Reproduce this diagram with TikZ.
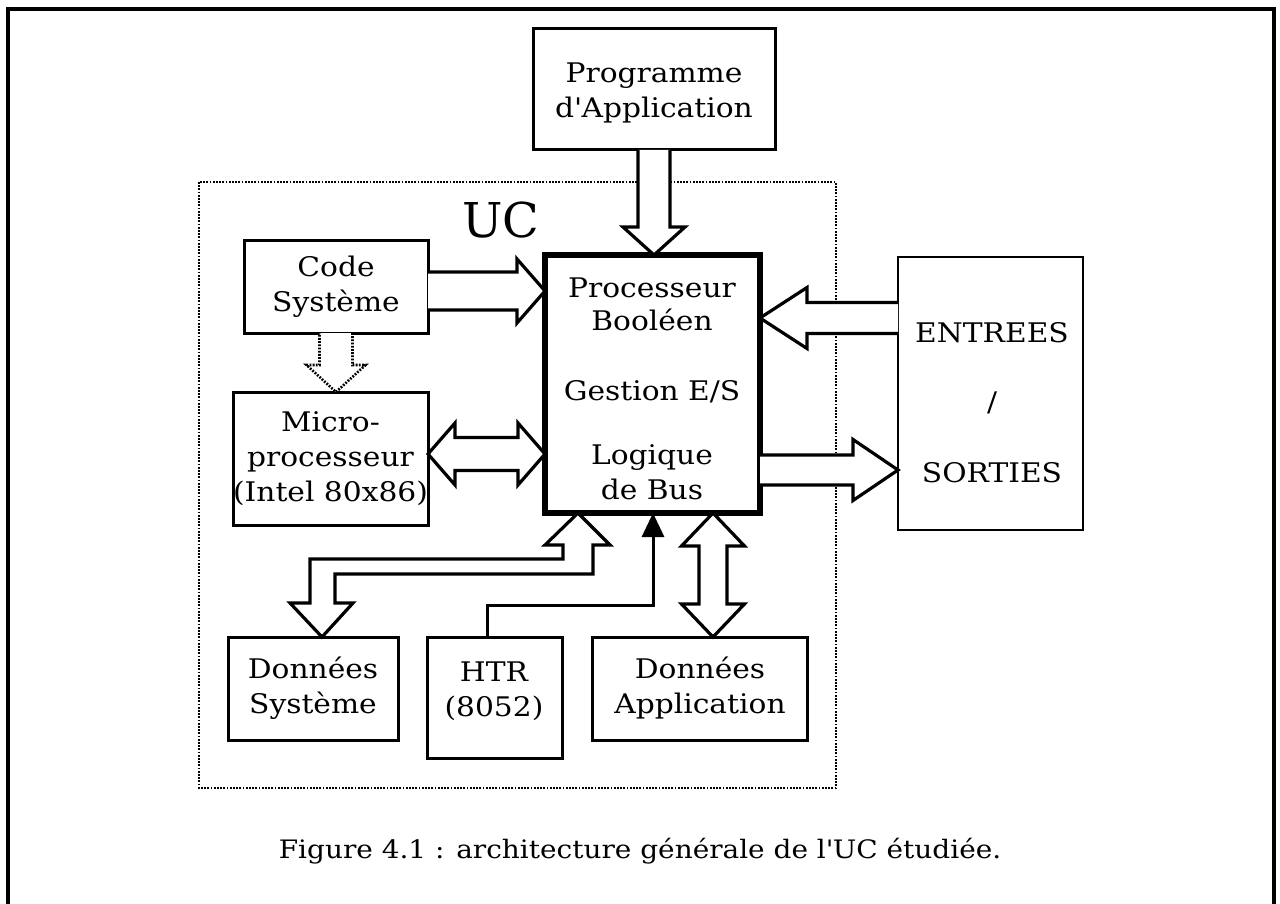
\documentclass[tikz,border=0pt]{standalone}
\usepackage{fontspec}
\setmainfont[FakeStretch=1.1]{DejaVu Serif}
\newfontfamily\ucfont{DejaVu Serif}
\usetikzlibrary{calc,arrows.meta}
\tikzset{
  box/.style={draw, line width=1.5pt, inner sep=0pt, outer sep=0pt, align=center,
    font=\fontsize{13.5}{17.5}\selectfont},
  thickbox/.style={box, line width=2.6pt},
  lbl/.style={inner sep=0pt, align=center, font=\fontsize{13.5}{17.5}\selectfont},
  barrow/.style={draw, line width=1.6pt, line join=miter, fill=white},
  dotarrow/.style={barrow, line width=1.3pt, dash pattern=on 0.9pt off 0.7pt},
  frame/.style={line width=2.2pt},
  ucbox/.style={draw, line width=1.1pt, dash pattern=on 0.9pt off 0.7pt}
}
% single block arrow: #2 start, #3 tip, #4 half shaft, #5 half head, #6 head length
\newcommand{\BlkArrow}[6][]{%
  \path (#2) coordinate (tmpA) (#3) coordinate (tmpB);
  \path ($(tmpB)!#6!(tmpA)$) coordinate (tmpH);
  \draw[barrow,#1] ($(tmpA)!#4!90:(tmpB)$) -- ($(tmpH)!#4!90:(tmpB)$) -- ($(tmpH)!#5!90:(tmpB)$)
    -- (tmpB) -- ($(tmpH)!#5!-90:(tmpB)$) -- ($(tmpH)!#4!-90:(tmpB)$) -- ($(tmpA)!#4!-90:(tmpB)$);
}
% double block arrow
\newcommand{\BlkDArrow}[6][]{%
  \path (#2) coordinate (tmpA) (#3) coordinate (tmpB);
  \path ($(tmpB)!#6!(tmpA)$) coordinate (tmpH) ($(tmpA)!#6!(tmpB)$) coordinate (tmpG);
  \draw[barrow,#1] (tmpA) -- ($(tmpG)!#5!90:(tmpB)$) -- ($(tmpG)!#4!90:(tmpB)$)
    -- ($(tmpH)!#4!90:(tmpB)$) -- ($(tmpH)!#5!90:(tmpB)$)
    -- (tmpB) -- ($(tmpH)!#5!-90:(tmpB)$) -- ($(tmpH)!#4!-90:(tmpB)$)
    -- ($(tmpG)!#4!-90:(tmpB)$) -- ($(tmpG)!#5!-90:(tmpB)$) -- cycle;
}
\begin{document}
\begin{tikzpicture}[x=0.5pt,y=-0.5pt]
\useasboundingbox (0,0) rectangle (1280,904);
% outer frame (open at the bottom)
\draw[frame] (8,904) -- (8,9) -- (1274,9) -- (1274,904);
% UC area
\draw[ucbox] (199,182) rectangle (836,788);
\node[font=\ucfont\fontsize{24}{28}\selectfont, inner sep=0pt] (uc) at (501,220) {UC};

% boxes
\node[box, minimum width=121pt, minimum height=60.5pt] (prog) at (654,89.5) {};
\node[lbl] (progt) at (654,93) {Programme\\d\textquotesingle Application};
\node[box, minimum width=92pt, minimum height=46.5pt] (code) at (336,286.5) {Code\\Système};
\node[box, minimum width=97.5pt, minimum height=66.5pt] (micro) at (330.5,458.5) {Micro-\\processeur\\(Intel 80x86)};
\node[thickbox, minimum width=107.5pt, minimum height=129pt] (proc) at (652.5,384) {};
\node[box, line width=1.3pt, minimum width=92.5pt, minimum height=136.5pt] (es) at (990.5,393.5) {};
\node[box, minimum width=85pt, minimum height=51.5pt] (dsys) at (313,688.5) {Données\\Système};
\node[box, minimum width=67.5pt, minimum height=60.5pt] (htr) at (494.5,697.5) {};
\node[lbl] (htrt) at (494,691) {HTR\\(8052)};
\node[box, minimum width=107.5pt, minimum height=51.5pt] (dapp) at (700,688.5) {Données\\Application};

% texts inside the processor box
\node[lbl] (t1) at (652,288) {Processeur};
\node[lbl] (t2) at (652,320) {Booléen};
\node[lbl] (t3) at (652,392) {Gestion E/S};
\node[lbl] (t4) at (652,458) {Logique};
\node[lbl] (t5) at (652,489) {de Bus};
% texts inside the I/O box
\node[lbl] (e1) at (992,333) {ENTREES};
\node[lbl] (e2) at (992,403) {/};
\node[lbl] (e3) at (992,473) {SORTIES};

% block arrows
\BlkArrow{prog.south}{prog.south |- proc.north}{8pt}{15.5pt}{14pt}
\BlkArrow{$(code.east)+(0,4.5)$}{$(proc.west)+(0,-93)$}{9.5pt}{16pt}{14pt}
\BlkArrow[dotarrow]{code.south}{code.south |- micro.north}{8.25pt}{14.75pt}{13.5pt}
\BlkDArrow{$(micro.east)+(0,-4.5)$}{$(proc.west)+(0,70)$}{8.25pt}{15.5pt}{13.5pt}
\BlkArrow{$(es.west)+(0,-75.5)$}{$(proc.east)+(0,-66)$}{7.75pt}{15.25pt}{23.5pt}
\BlkArrow{$(proc.east)+(0,86)$}{$(es.west)+(0,76.5)$}{7.5pt}{15.25pt}{22.5pt}
\BlkDArrow{$(proc.south)+(60.5,0)$}{$(dapp.north)+(13,0)$}{7pt}{15.75pt}{16.5pt}

% bent double-headed bus to Donnees Systeme
\coordinate (P) at ($(proc.south)+(-74.5,0)$);
\coordinate (Q) at ($(dsys.north)+(9,0)$);
\draw[barrow] (P) -- ($(P)+(32,32)$) -- ($(P)+(15,32)$) -- ($(P)+(15,61)$)
  -- ($(Q)+(13,-63)$) -- ($(Q)+(13,-34)$) -- ($(Q)+(31,-34)$) -- (Q)
  -- ($(Q)+(-32,-34)$) -- ($(Q)+(-12,-34)$) -- ($(Q)+(-12,-78)$)
  -- ($(P)+(-15,46)$) -- ($(P)+(-15,32)$) -- ($(P)+(-33,32)$) -- cycle;

% HTR interrupt line
\draw[line width=1.5pt, -{Triangle[length=12pt,width=11pt]}]
  ($(htr.north)+(-7.5,0)$) |- ($(proc.south)+(0.5,92)$) -- ($(proc.south)+(0.5,0)$);

% caption
\node[lbl, font=\fontsize{12.7}{15}\selectfont] (cap) at (640,851) {Figure 4.1 : architecture générale de l\textquotesingle UC étudiée.};
\end{tikzpicture}
\end{document}
